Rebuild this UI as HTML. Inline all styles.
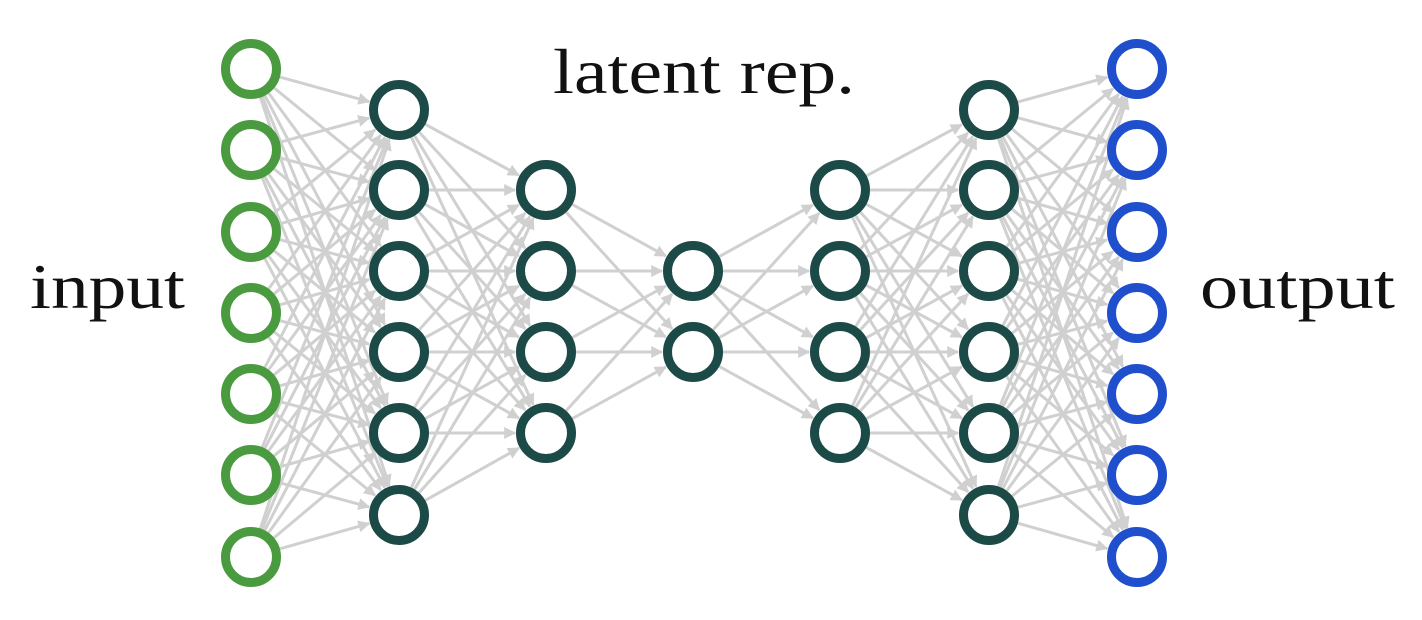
<!DOCTYPE html>
<html><head><style>
html,body{margin:0;padding:0;background:#fff;}
svg{display:block;}
text{font-family:"Liberation Serif",serif;font-size:64px;fill:#111;}
</style></head><body>
<svg id="s" width="1422" height="620" viewBox="0 0 1422 620">
<defs><marker id="a" viewBox="0 0 10 10" refX="9" refY="5" markerWidth="4" markerHeight="4" orient="auto" markerUnits="strokeWidth"><path d="M0,0L10,5L0,10z" fill="#d0d0d0"/></marker></defs>
<g id="e"></g><g id="n"></g>
<text x="30" y="308" textLength="155" lengthAdjust="spacingAndGlyphs">input</text>
<text x="1200" y="308" textLength="195" lengthAdjust="spacingAndGlyphs">output</text>
<text x="553" y="93" textLength="302" lengthAdjust="spacingAndGlyphs">latent rep.</text>
</svg>
<script>
var L=[[251,[69,150,232,313,394,475,557],"#4a9a3f"],[399,[110,190,271,352,433,515],"#1c4a47"],[546,[190,271,352,433],"#1c4a47"],[693,[271,352],"#1c4a47"],[840,[190,271,352,433],"#1c4a47"],[989,[110,190,271,352,433,515],"#1c4a47"],[1137,[69,150,232,313,394,475,557],"#1f4fcc"]];
var ns="http://www.w3.org/2000/svg",E=document.getElementById("e"),N=document.getElementById("n"),R=30;
for(var i=0;i<L.length-1;i++){var a=L[i],b=L[i+1];a[1].forEach(function(y1){b[1].forEach(function(y2){
var dx=b[0]-a[0],dy=y2-y1,d=Math.sqrt(dx*dx+dy*dy),ux=dx/d,uy=dy/d;
var l=document.createElementNS(ns,"line");l.setAttribute("x1",a[0]+ux*R);l.setAttribute("y1",y1+uy*R);
l.setAttribute("x2",b[0]-ux*(R+1));l.setAttribute("y2",y2-uy*(R+1));l.setAttribute("stroke","#d0d0d0");l.setAttribute("stroke-width","3");l.setAttribute("marker-end","url(#a)");E.appendChild(l);});});}
L.forEach(function(a){a[1].forEach(function(y){var c=document.createElementNS(ns,"circle");c.setAttribute("cx",a[0]);c.setAttribute("cy",y);c.setAttribute("r","25.5");c.setAttribute("fill","#fff");c.setAttribute("stroke",a[2]);c.setAttribute("stroke-width","9");N.appendChild(c);});});
</script>
</body></html>
